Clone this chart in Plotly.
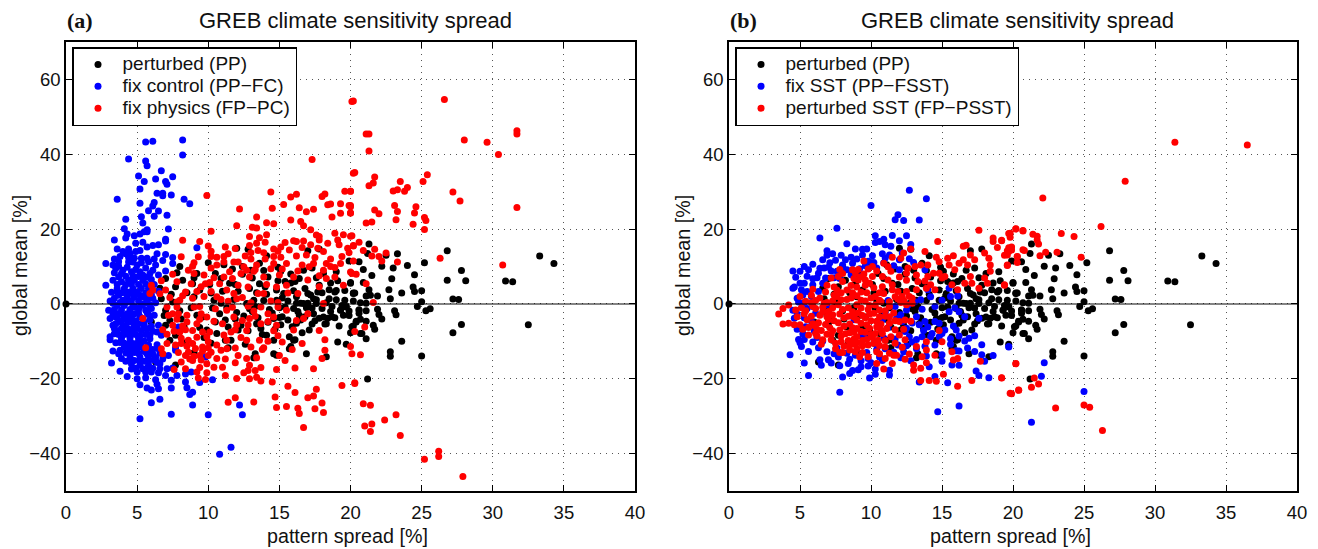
import plotly.graph_objects as go

pp = [(0,0),(21.3,16.0),(21.2,13.5),(22.5,13.0),(23.3,13.4),(26.8,14.2),(33.3,12.8),(34.3,10.8),(25.2,11.0),(24.0,10.3),(23.0,9.6),(22.2,10.1),(20.6,11.3),(20.9,9.2),(27.8,8.9),(24.5,7.8),(21.5,7.6),(22.9,6.7),(26.8,6.3),(28.1,6.2),(30.9,6.1),(31.4,5.9),(20.0,5.7),(20.9,5.7),(24.4,4.5),(24.5,3.3),(25.0,3.5),(22.7,3.8),(23.6,2.9),(21.3,3.8),(20.2,2.9),(21.9,2.1),(21.4,2.3),(21.1,2.1),(22.8,1.4),(27.2,1.3),(27.6,1.2),(20.2,0.8),(25.0,0.6),(20.7,0.3),(21.1,0.2),(24.7,-0.7),(25.3,-1.8),(25.6,-1.3),(21.9,-1.4),(23.1,-1.8),(23.2,-2.9),(20.6,-1.6),(20.6,-2.5),(21.1,-1.8),(22.0,-2.8),(22.2,-4.0),(20.4,-4.6),(20.7,-4.1),(21.1,-4.6),(21.6,-5.7),(21.7,-6.8),(20.1,-6.1),(27.8,-5.5),(32.5,-5.6),(27.2,-7.7),(20.8,-7.9),(21.1,-9.3),(23.6,-10.0),(22.8,-12.8),(22.8,-14.0),(25.0,-13.9),(21.2,-20.1),
(7.8,8.3),(7,6.8),(7.7,4.6),(8.2,6.3),(9.2,8.1),(9.4,3.7),(9,1.9),(6.7,1.4),(7.5,.5),(7,-1.7),(7.3,-4.4),(7,-5.7),(7.3,-9.7),(7.7,-8.4),(6.3,-15.5),(7.7,-16.3),(6,-4.8),(10.5,8.1),(10.4,1),(10.8,-2.6),(10.5,-4.8),(10.6,-7.9),(11.2,-9.7),(11.6,-9.7),(12.1,3.4),(12.9,4.1),(12.7,.1),(13.2,1),(14.2,7.2),(13.6,5.4),(13.4,3),(14.8,3.7),(14.8,1),(15.3,2.8),(14.6,-9.7),(14.6,-13.3),(13.3,-13.3),(14.1,-8.4),(16,-9.7),(15.7,-12),(16.9,-13.3),(16.4,6.8),(16.8,4.1),(17.4,1.4),(17.6,.1),(17,2.8),(17.8,5),(18.5,1.4),(18.9,3.2),(19.6,1),(20.2,2.8),(19.3,-1.7),(19.7,-.8),(18.3,-5.3),(18.1,-3.5),(17.4,-2.6),(19.1,-10.2),(19.7,-10.8),(20.4,-4.8),(19.5,-3),(16.7,.1),
(17.8,14.7),(17,14.2),(19.9,11.5),(17.3,9.6),(19.1,6.2),(20,5.5),(18.5,3.8),(19,3.6),(19.6,3.6),(20.3,2.9),(17.2,2.4),(17.6,1.1),(17,.2),(16.2,.2),(16.5,.2),(18.7,-.7),(19.7,-.7),(19.3,-1.6),(20.6,-1.6),(18.4,-3.8),(18.9,-3.7),(19.9,-3.1),(17.8,-3.8),(18.2,-5.4),(19.2,-5.9),(20.2,-5.9),(20,-7.7),(20.7,-7.9),(15.9,-6.1),(16.2,-5.2),(16.5,-4.3),(17.3,-5.4),(16.8,-3.4),(15.2,-3.4),(15.1,-5.6),(15.7,-8.8),(16.1,-9.6),(15.8,-11.4),(18.3,-14.1),(14.8,-13.7),(13.2,-14.4),(9,-13),(12,14.9),(12.8,14.6),(14.1,12.9),(13.6,10.9),
(8.5,3),(8.8,-1),(9.6,-3.5),(9.9,-7),(10.2,-10.5),(11.5,5.5),(11.3,-1),(11.9,-4),(12.1,-7),(12.6,-10.8),(12.4,7.9),(13.1,-2),(13.4,-5.3),(13.8,-8.2),(14.1,2.6),(14.3,-1.5),(14.6,-3.9),(15,-1),(15.4,6),(15.6,.8),(16,3.5),(16.3,-2),(16.9,-1),(17.5,-4.5),(18,3),(18.6,-2),(10.9,6.8),(11.7,9.3),(13,9),(14.9,9.8),(15.8,8),(16.7,9),(18.1,8.1),(19,8.6),(10,11),(9,7),(8,10),
(6.6,4.2),(6.9,-3.1),(7.4,2.6),(8,-1.8),(8.1,-4),(8.3,-6.2),(8.4,-10.4),(8.9,5.4),(9.2,-3),(9.4,-6.3),(9.7,-9),(10.1,5.2),(10.2,2.9),(10.3,-1.1),(10.9,.2),(11,3.4),(11.2,-4.3),(11.4,-6.2),(11.4,-11.7),(11.8,1.2),(11.9,5.2),(12,-2.3),(12.3,-5.7),(12.5,-3.2),(12.8,-7.2),(12.9,-1.3),(13.1,6.9),(13.3,-.7),(13.5,-3.7),(13.7,-6.6),(13.9,.9),(14,4.6),(14.2,-4.9),(14.5,-2.4),(14.7,-6.7),(14.9,6.2),(15,-3.6),(15.2,1.6),(15.4,-.8),(15.6,-4.3),(15.8,5.6),(16,-1.2),(16.2,1.9),(16.4,-3),(16.6,-7.7),(17.1,-7),(17.3,-1.1),(17.7,3.2),(18,-1.2),(18.3,.3),(18.7,-3.4),(19,1.1),(19.4,-.4),(19.9,-1.9),(16.1,6),(15.1,8.7),(13.9,8.9),(12.4,10),(11.1,10.5),(17.6,7),(18.6,5.6)]

blue_a = [(5.6,43.3),(6.1,43.5),(8.2,43.8),(8.2,39.8),(4.4,38.7),(5.6,38.2),(5.7,36.9),(6.7,35.6),(5.1,34.2),(7.5,34.0),(6.3,33.4),(5.5,32.7),(7.0,32.7),(7.1,32.0),(5.2,30.7),(6.4,29.6),(6.8,29.6),(6.8,28.9),(7.4,29.1),(3.6,28.0),(8.3,28.0),(8.7,26.8),(5.2,26.9),(6.2,27.1),(6.1,26.2),(5.8,24.9),(6.5,24.8),(5.3,23.3),(6.2,23.4),(7.1,23.7),(4.2,22.6),(5.4,21.6),(4.1,20.1),(7.2,20.0),(5.7,19.8),(4.3,18.7),(5.2,18.7),(4.8,18.2),(5.7,19.3),(5.5,19.3),(4.2,17.6),(7.0,17.3),(3.4,17.1),(4.9,16.2),(5.4,16.5),(7.0,16.8),(6.1,15.6),(6.5,15.8),(9.2,15.0),(3.6,14.7),(5.7,15.2),(4.4,14.7),(5.2,14.3),(4.9,14.0),(4.0,14.0),(4.5,13.5),(4.2,13.4),(7.0,13.2),(6.4,13.4),(7.5,12.4),(3.8,12.7),(5.3,12.2),
(2.8,10.8),(3.3,10.4),(3.7,10.1),(4.4,11.2),(5.0,10.4),(5.3,11.0),(6.3,10.4),(7.0,8.8),(7.5,10.8),(3.4,8.3),(4.0,9.0),(4.6,8.6),(5.2,8.6),(5.9,8.1),(6.5,7.7),(2.8,5.0),(3.3,6.3),(3.9,5.9),(4.4,6.3),(4.8,6.3),(5.4,6.3),(3.6,4.1),(4.1,4.1),(4.7,4.1),(5.3,4.1),(5.8,4.1),(3.1,0.8),(3.7,2.3),(4.3,1.9),(4.8,1.9),(5.4,1.9),(6.3,0.3),(3.0,-1.7),(3.6,-0.4),(4.1,-0.4),(4.7,-0.4),(5.3,-0.4),(3.1,-3.9),(3.7,-2.6),(4.3,-2.6),(4.8,-2.6),(5.4,-3.9),(3.3,-5.7),(3.9,-4.8),(4.5,-4.8),(5.1,-5.3),(6.5,-5.7),(3.1,-8.8),(3.6,-7.2),(4.1,-7.1),(4.7,-7.1),(5.3,-7.1),(6.4,-7.5),(6.7,-8.4),(3.1,-9.6),(3.9,-9.3),(4.5,-9.3),(5.1,-9.3),(5.9,-9.3),(6.4,-10.9),(3.3,-12.6),(3.8,-12.4),(4.4,-12.0),(5.0,-11.7),(7.7,-12.4),(3.9,-14.6),(4.5,-14.2),(5.2,-14.2),(5.8,-14.4),(7.2,-13.8),(3.2,-15.8),(4.6,-16.0),(5.2,-16.4),(5.8,-16.4),(6.6,-16.0),(3.8,-18.0),(4.3,-19.4),(5.0,-18.2),(5.6,-18.2),(6.0,-18.2),(7.1,-17.3),(7.5,-17.1),(5.0,-20),(5.6,-19.7),(7.0,-19.1),(7.4,-20.4),(7.8,-19.1),(8.4,-18.7),(8.8,-18.2),(6.3,-20.3),(5.2,-21.6),(5.7,-22.5),(6.0,-23),(6.4,-21.5),(6.5,-22.7),(7.4,-22.5),(8.4,-20.9),(8.5,-22.4),(9.4,-21),(10.3,-20.3),(8.9,-23.6),(8.7,-24.2),(6.6,-25.5),(6.0,-26.4),(8.9,-27),(12.2,-27),(12.4,-29.6),(7.4,-29.5),(10,-29.6),(5.2,-30.7),(11.6,-38.3),(10.8,-40.2),(9.8,-14.2),(7.9,-6.2),(7.7,-11.7),
(4.3,9.8),(4.9,9.2),(5.6,9.6),(6,6.5),(6.2,5.2),(6.5,3.4),(4.2,7.4),(5.1,7.3),(5.7,7.1),(3.7,7.2),(3.9,3),(4.4,3.1),(5,3.2),(5.6,2.9),(6,2.5),(3.4,1.5),(4,1),(4.6,.9),(5.1,.8),(5.7,.7),(6.1,1.5),(3.4,-1.5),(3.9,-1.6),(4.5,-1.5),(5.1,-1.5),(5.6,-1.6),(6,-1.2),(3.5,-3.5),(4.1,-3.7),(4.6,-3.6),(5.2,-3.4),(5.8,-2.8),(6.2,-3),(3.5,-5.3),(4.2,-5.9),(4.8,-6),(5.5,-5.7),(6,-6),(3.7,-8.2),(4.3,-8.1),(4.9,-8.2),(5.6,-8.2),(6.1,-7.3),(3.5,-10.4),(4.1,-10.5),(4.7,-10.6),(5.3,-10.4),(5.8,-11),(6.1,-12.2),(4.2,-13.1),(4.8,-13),(5.5,-12.7),(6.1,-13.4),(6.6,-13.2),(5.2,-15.3),(5.5,-15.3),(6.2,-15),(6.8,-14.7),(4.9,-17.2),(5.4,-17.3),(6.1,-17.2),(6.5,-18.4),(4.6,-15),(3.4,12),(4.4,12.4),(4.8,12.3),(5.7,12.2),(6.2,12),(6.8,11.6),(3.7,11.3),(4.7,11.2),(5.8,11.3),
(3.5,9.5),(3.9,8.1),(4.7,7.5),(5.4,7.7),(6.1,9),(3.6,5.2),(4.2,5.1),(4.6,5.3),(5.1,5.2),(5.6,5.3),(3.2,3.1),(3.6,3.2),(4.2,2.9),(4.6,2.8),(5.2,2.3),(5.7,1.8),(3.3,.2),(3.8,.4),(4.3,.5),(4.9,-.9),(5.5,.1),(5.9,-.2),(3.3,-2.7),(3.9,-2.7),(4.5,-3),(5.1,-2.5),(5.7,-2.3),(3.7,-4.3),(4.3,-4.3),(4.9,-4.5),(5.5,-4.8),(5.9,-4.2),(3.4,-6.6),(3.9,-6.5),(4.4,-6.7),(5,-6.6),(5.7,-6.7),(3.4,-8),(4,-8.3),(4.6,-8.2),(5.2,-8.5),(5.9,-8.3),(3.8,-10.3),(4.4,-10.7),(5,-10.5),(5.5,-9.9),(4.1,-11.6),(4.7,-11.7),(5.3,-11.6),(5.9,-12.3),(6.5,-12),(3.7,-13.3),(4.5,-13),(5.1,-13.2),(5.7,-13.4),(6.3,-14.3),(4.2,-15.3),(4.8,-15.1),(5.8,-15.3),(6.4,-15.6),(4.6,-17.4),(5.7,-17.2),(6.6,-17.3)]

red_a = [(20.1,54.1),(17.3,38.6),(20.2,34.9),(20.3,35.1),(9.9,29),(14.4,29.9),(15.8,28.6),(16.2,29.3),(18,28.7),(18.2,29.4),(19.6,30.1),(20,30.1),(15.3,26.6),(16.4,25.7),(18.4,26.5),(18.6,26.7),(19.3,26.8),(19.9,26.3),(20,26),(14.5,25.6),(12.2,25.4),(16.9,24.6),(17.4,25.3),(19.3,24.2),(20,24.3),(13.4,23.2),(18.7,23.2),(15.8,22.4),(16.5,22),(14.1,21.7),(14.6,21.4),(12,20.9),(13.1,20.5),(13.4,20.3),(16.7,20.9),(17.2,19.8),(10.2,19.4),(12.9,18),(14.1,18.5),(13.6,17.7),(13.4,16.2),(17.6,18.4),(18.9,18.9),(19.5,18.5),(20,18.1),(8.2,17),(9.4,16.7),(12.9,15.6),(14,16.5),(15.4,16.4),(16,16.9),(16.2,16.7),(16.7,16.8),(17.2,15.8),(17.8,18),(17.8,17.1),(18.4,16.2),(19.1,17.1),(19.2,15.8),(20.2,15.5),(15.7,14.4),(14.6,14.7),(13.5,14.3),(13,13.7),(13.9,13.7),(12.6,12.8),(11.4,13.4),(11.1,12.7),(10.6,12.5),(10.2,14.1),(10.2,12.7),(8.1,12.6),(9.3,12.6),(14.6,12.7),(16.9,13.1),(18.1,14),(19.4,12.7),
(26.6,54.6),(20.2,54.2),(21.1,45.4),(21.3,45.4),(28,43.8),(29.6,43.2),(31.7,46.3),(31.7,45.4),(30.4,39.9),(21.3,40.9),(21.7,33.9),(25.4,34.5),(25.1,32.7),(23.5,32.7),(21.6,32.3),(21.3,31.6),(24,31.1),(23.8,30.1),(23.3,30.5),(23,30.2),(27.2,29.9),(27.7,27.5),(20,30.1),(23.1,26.3),(31.7,25.8),(24.6,26),(21.7,25.1),(23.3,24.7),(22,24.1),(24.5,24.3),(20,26.3),(20,24.3),(25.2,23.1),(25.3,22.3),(23.2,22.5),(21.5,21.9),(21.1,21.6),(24.4,21.3),(25.2,19.9),(20.1,18.2),(20.6,16.5),(20.2,15.6),(20.9,14.3),(21.7,14.6),(21.5,12.8),(22.5,13.6),(22,12.7),(22.2,11.5),(26.3,12.2),(23.3,11.2),(30.7,10.4),(20.2,11.5),(20,8.5),(20.4,7.9),(21.1,5.4),(21.6,0.4),(21,-6.2),(20.3,-7.4),(20,-11.4),(20.1,-13.3),(20.7,-13.6),(20.3,-21.1),(20.9,-26.7),(21.4,-27.1),(23.2,-29.6),(22.4,-31),(21.5,-32.1),(21,-32.6),(21.4,-34.1),(23.5,-35.2),(26.2,-39.4),(26.2,-40.8),(25.2,-41.5),(27.9,-46.1),
(5.4,-3.9),(5.6,-11.7),(7.6,-17.5),(6.7,-12),(6.8,-13.3),(7.1,-8.1),(7.5,-5.7),(8,-7.5),(7.7,-11),(8.1,-15.5),(8.9,-15.1),(9.2,-18.2),(9.8,-20.2),(9.9,-16),(9.4,-17),(10.6,-14.6),(11,-16.9),(11.2,-19.1),(12,-19.9),(11.4,-26.3),(11.9,-25.1),(13.2,-26.2),(14.5,-20.9),(14.8,-17.5),(15.6,-22),(16.1,-23.7),(14.7,-24.9),(14.8,-27.7),(15.5,-27.4),(16.3,-27.9),(16.4,-29.3),(16.7,-33),(17,-25.1),(17.4,-24.6),(17.6,-22.8),(18,-26.5),(17.5,-28),(18.1,-29),(19.4,-21.8),(20.3,-21.3),(16.1,-17.1),(17.4,-17.3),(18,-14.6),(18.2,-12.4),(18.2,-9.6),(17.8,-7.1),(15.4,-15.1),(15.9,-12.2),(16.6,-10.6),(15,-13.8),(13.8,-12.2),(13.9,-11.7),(13.4,-14.4),(12.7,-14.6),(12.9,-16.4),(12.8,-17.8),(13.7,-17),(13.3,-17.8),(12.5,-18.4),(12.9,-20),(13.4,-19.6),(13.7,-20.6),(12.1,-13.8),(11.3,-12),(11.9,-11.8),(12.7,-9.7),(13.6,-9.7),
(6.7,6.2),(6,5),(6.1,3.7),(5.9,2.8),(7,3.7),(7.8,5.9),(8.6,9),(8.8,5.4),(9.8,5.4),(9.5,4.6),(8.4,3.2),(7.8,0.5),(11.1,7.2),(10.8,5.4),(11.3,3.7),(11.8,2.8),(10.6,10.4),(11.1,11.2),(11.8,11.2),(12.5,9.9),(13.4,10.4),(12.3,8.1),(12.9,7.2),(13.9,7.2),(13.5,2.8),(13.9,2.8),(12,1.4),(10.6,1.9),(15,7.7),(15.5,5),(16.3,2.8),(16,7.2),(15.5,10.8),(16.6,10.4),(17.1,9.9),(18.1,9),(18.9,7.2),(19.5,5),(20.1,8.1),(18.3,6.8),(18.1,0.1),(14.6,10.8),(17.4,10.8),(18.3,10.8),(19.3,10.8),
(7.5,-2.6),(7.9,-2.6),(8.5,-3),(9,-0.8),(9.5,-2.6),(8.5,-4.8),(9.2,-5.3),(9.9,-3.5),(11,-5.3),(11.3,-1.7),(11.8,-3.5),(12.4,-4.4),(12.9,-3.9),(13.7,-0.8),(14.2,-2.6),(13.7,-5.3),(14.6,-3.5),(14.8,-5.7),(15.5,-1.7),(16.2,-4.4),(16.7,-3.9),(17,-2.6),(8.9,-7.1),(9.6,-7.5),(9.9,-8.8),(8.6,-9.7),(8.9,-10.6),(9.6,-11.5),(8.6,-12.9),(9.4,-13.8),(10.6,-11),(10,-13.8),(11.6,-7.5),(12.7,-7.1),(7.8,-0.8),(7.1,-0.8),
(8,1),(8.9,1.5),(9.7,2),(10.2,3.3),(10.9,1.2),(11.4,.7),(12.4,1.7),(13,.3),(14.4,.8),(14.9,-.8),(9.4,-.7),(10.5,-1.3),(11.7,-.9),(12.8,-.6),(13.2,-1.9),(7.8,-4.1),(8.2,-5.9),(9.4,-4.1),(10.4,-4.6),(12,-5.6),(12.8,-5.6),(13.3,-3.3),(14.2,-4.7),(9.2,-8.9),(10.1,-7.5),(11.1,-8.3),(8.1,-10.6),(8.5,-11.3),(9.1,-11.9),(10,-11.8),(10.9,-12.4),(9,-14),(8.7,-14.7),(9.5,-15),(7.9,-13),(12.3,-9),(13,-11.5),(14.2,-10),(14.9,-8.5),(15.2,-10.2),(14.6,-7.2),(16,-7),(9,8.1),(9.7,7.7),(10.2,9.6),(11.7,6.8),(12.1,5),(12.8,4.5),(14.1,5.2),(14.8,4.5),(15.6,2.9),(17,6.4),(17.8,4.6),(18.6,10),(14.9,.4),
(8.4,-6.9),(8.1,-9.2),(10,-10.1),(8.4,-13.8),(10.2,-12.9),(9.6,-12.6),(11.3,-9.7),(11.9,-6.9),(7.3,1.7),(8.2,2.2),(9.2,3.3),(10.1,5.7),(10.4,7),(11.5,8.6),(12.7,9),(13.2,8.7),(14.4,9.4),(15.2,9.3),(16.3,8.8),(17.8,7.5),(18.9,9.7),(12.1,11.2),(13,12),(14,12),(15.1,12.5),(16.2,12.8),(17.5,12.4),(18.6,12),(19.9,13.7),(11.9,14.8),(15.1,15.2),(16.6,15.1),(17.7,14.9),(19.8,14.9),(13.3,9.2),(14.9,14.1),(9,11),(8.9,10.1),(10,15.5),(11.2,15.2),(7.5,7.9),(6.6,2.7),(7.2,-3),(6.8,-6.9),(7.6,-7.3),(7.1,-10.6),(9.9,-18.4),(9.3,-19.8),(8.4,-17.3),(11.2,-14.7),(11.9,-15.7),(10.4,-16.9)]

blue_b = [(12.7,30.4),(13.9,28.1),(10,26.3),(11.9,23.8),(11.7,22.5),(12.3,22.3),(13.4,22.4),(7.6,20.2),(6.4,17.6),(8.3,16.1),(10.3,18.2),(11.5,18.3),(12.5,18.2),(10.9,17.3),(10.3,16.4),(10.6,16.7),(12,16.9),(12.8,15.9),(11.4,15.4),(9.4,14.6),(9.7,14.7),(11,15.8),(10.8,13.4),(10.1,12.9),(11.3,13.1),(7.3,13.4),(6.9,14.2),(6.9,13),(6.6,11.8),(8.6,12.5),(9,12),(8.7,10.9),(5.9,10.6),(5.3,10),(4.5,8.8),(5,8.7),(5.6,9.1),(6.3,8.2),(6.7,9.6),(7.2,8.8),(7.6,8.7),(8.3,9.1),(8.7,9.1),(10.4,9.6),(13.8,9.1),(12,9.1),(5.9,6.7),(6.8,6.9),(5.3,5.5),(5,5.5),(4.6,4.5),(4.5,4.2),(5.9,5.1),(6.3,3.3),(4.8,1.5),(5.2,2.4),(4.6,-3.8),(4.8,-6.8),(4.9,-9.5),(5,-10.4),(5.3,-9.5),(5.9,-10.2),(5.1,-11.4),(4.3,-13.6),(5.3,-15.8),(5.6,-19.1),(6.9,-12.8),(7.4,-13.3),(7.8,-16.5),(8.5,-14.8),(8.4,-15.9),(9.3,-15.2),(9.3,-16.8),(8.7,-17.8),(9.8,-14.6),(8,-19.5),(7.8,-23.6),(9.9,-19.8),(10.3,-18.8),(11.3,-17.7),(11.3,-19),(12.3,-12.8),(12.8,-15.2),(13.4,-20.9),(14.5,-19.4),(15.4,-21.1),(16.2,-16.4),(16.2,-12.6),(16.8,-11.8),(17.3,-12.7),(17.8,-10.9),(17.8,-13.6),(18,-15.3),(18.6,-13.8),(19.7,-11.4),(17.4,-17.9),(17.6,-19.1),(18.3,-19.7),(14.7,-28.8),(16.2,-27.3),(16.9,-9.2),(17.3,-8.5),(16.2,-8.6),(16.6,-3.4),(17.6,-3.8),(15.5,-2.1),(15.6,2),(16.1,2.1),(15.5,4.2),(14.1,-16.8),(15.2,-7),(14.5,-.7),(14.5,-4.7),(14.8,-5.2),(14.8,-8.8),(15,-7.9),(14.3,-7.9),(14.5,-11),(13.8,-4.7),(13.5,1.1),(13.6,-1.4),(13.2,-3.4),(13.4,-5.6),(12.5,-1.6),(12.1,-2.9),(11.8,-3.8),(12.5,-6.5),(12.4,-7.4),(12.7,-8.8),(13.6,-8.8),(14.2,-8.8),(11.7,-.7),(11.2,.9),(19.7,-11.5),(22.2,-15.7),(22,-19.3),(25,-23.4),(21.3,-31.6),
(9.3,-8.5),(9.6,-9.2),(6.9,-.2),(8.8,-4.2),(7.4,7),(8.6,7.8),(9.3,7.3),(10.9,11),(11.6,10.2),(12.7,12.1),(9.8,11.4),(7.1,11),(8,10.4),(6.2,7),(4.9,.5),(5.5,-1.2),(4.5,-1.7),(4.8,-2.7),(5.2,-8),(6.6,-9.9),(7.6,-11.8),(8.3,-13.2),(9.7,-13),(10.4,-12.2),(11,-12),(11.9,-11),(10.8,-15.1),(9.8,-16.6),(12.1,-14.4),(13.2,-12),(13.8,-11.3),(15,-13.6),(15.6,-10.8),(16,-12.5),(11.7,-9.4),(11.2,-6.3),(10.8,-4.2),
(4.7,7.1),(5.5,7.4),(6.6,5.5),(7.8,6.8),(6.4,9.5),(7,9.8),(8,8.9),(9.2,9.4),(9.6,10.2),(10.2,11.1),(11,12.3),(12,11.8),(12.2,13.6),(13,11.1),(7.9,13),(7.5,11.7),(8.2,11.8),(9.4,13.1),(8.9,14.7),(5.1,3.8),(5.5,3.3),(5.8,2),(5.3,.4),(5.9,-.7),(6.1,-2.5),(5.3,-3.7),(5.8,-4.6),(5.4,-6.1),(6,-7.2),(6.2,-9),(6.3,-11.7),(5.6,-12.7),(7,-14.9),(6.4,-14.9),(7.7,-14.2),(8.9,-13.7),(10,-15.7),(10.6,-14.2),(11.6,-12.9),(12.5,-11.2),(12.9,-10.2),(13.2,-9.5),(13.7,-7.1),(14,-6.2),(12.9,-5.1),(12.2,-4.7),(10.9,-9.1),(10.4,-10.8),(11,-2.2),(12.6,-.3),(13.1,.6),(14.2,1.9),(14,3.8),(15,1),(15.9,-1),(16.2,-2.1),(15.8,-5.9),(16,-7),(15.6,-9.3),(16.6,-9.9),(9.1,-17.6),(8.5,-18.6),(10.3,-17.4),(7.2,-15.8),(6.5,-16.4),(15,-15.3),(13.9,-13.9),(15.7,-16.3)]

red_b = [(31.4,43.2),(36.5,42.5),(27.9,32.8),(22.1,28.3),(26.2,20.7),(20.2,20),(20.7,19.5),(19.7,18.8),(19.8,17.8),(19.2,16.9),(21.4,18.6),(21.7,18.1),(23.4,18.8),(24.3,18),(21.7,17.1),(21.8,16),(19.7,15),(19.9,14.4),(19.6,14.2),(19.4,13),(20.8,14.3),(22.3,13.8),(21.9,12.9),(23.1,13.8),(24.8,12.5),(20.3,12.6),(20.3,11.1),(19.6,10.3),(19.4,5),(20.2,-16),(19.2,-19.8),(21.5,-19.8),(21.8,-21.4),(21.3,-22.3),(20.4,-23.1),(19.9,-24),(23,-27.8),(25,-27),(25.4,-27.6),(26.3,-33.8),
(3.5,-2.7),(3.8,-1.2),(3.8,-5.4),(4.2,-5.2),(4.2,-0.3),(5,2),(5.9,3.9),(9.5,11.5),(10.1,10),(8.7,9.1),(7.7,7.3),(7.2,6.9),(10.9,10.9),(11.5,12.5),(12.1,12.2),(12.3,13.6),(12.8,14.7),(14.7,16.7),(13.8,14),(13.5,10.4),(14.6,12.5),(14.8,11.3),(14,10.4),(13.1,10),(12.6,9.6),(12.5,8.2),(15.4,12.2),(15.8,12.9),(15.5,10.4),(16.2,10.9),(16.5,15.4),(16.7,15.7),(17,13.1),(17.3,11.8),(17.6,19.7),(18.6,17.6),(18.6,16.7),(19.2,17),(18.9,15.1),(19.8,18.9),(20.2,20.1),(20.7,19.6),(19.9,15.2),(19.7,14),(19.6,13.1),(19.6,10.4),(20.3,12.7),(20.7,14.5),(18,13.6),(18.3,12.2),(18.4,10.4),(18.4,8.7),(18,6.9),(18.2,5.5),(17.6,4.2),(17.1,5.5),(16.6,5.5),(17,7.3),(16.1,3.8),(15.7,5.1),(15.2,7.3),(15,6.9),(15.9,9.1),(16.8,10.4),(16.5,11.8),(14.8,8.2),(14.4,8.2),(14,7.3),(14.2,5.1),(14.5,3.8),(13.9,4.2),(19.4,5.1),
(14.8,-7.1),(15,-10.1),(13.9,-10.1),(13.9,-12.3),(14.5,-13.7),(15.7,-12.8),(16.1,-14.6),(15.8,-15),(17.7,-15.3),(13.9,-15.7),(13.6,-14.1),(13,-16.3),(13,-17.7),(13.5,-17.2),(13.2,-11.4),(15.1,-18.8),(14.1,-20.5),(14.6,-20.7),(13.5,-20.5),(17.1,-20.5),(16.1,-22),(19.2,-19.7),(20.2,-15.9),(20.4,-23),(19.8,-23.9),(12.4,-14.8),(10.9,-17.4),(10.4,-15.9),(11.5,-15.9),(11,-14.6),(11.6,-13.7),(11.8,-13.7),(11.3,-13.2),(12,-8.3),(12.4,-9.6),(11.7,-10.5),(11.4,-8.8),(10.8,-7.9),(10.3,-7.9),(11.3,-5.2),(11.3,-3.4),(12,-4.7),(12.4,-4.3),(12.8,-4.6),(12.7,2),(12.9,1.5),(12.2,2),(11.9,3.3),(12.5,3.3),(11.3,-0.7),(11.3,.6),(10.7,.6),(10.8,4.6),(11.5,5.1),(10.8,7.3),(11.4,8.7),(10.1,7.3),(9.1,6.4),(9.6,6.4),
(4.6,-5.6),(4.8,-3.4),(4.7,-1.6),(5,-5.6),(5.6,-8.3),(6.1,-7.9),(6.6,-9.6),(7.2,-9.6),(7.5,-10.5),(7.9,-10.1),(8,-13),(7.8,-13),(8.5,-12.3),(9,-11.9),(9.8,-11),(10.2,-10.5),(9.8,-14.1),(10.4,-12.8),
(5.1,-1),(5.3,-2.6),(5.5,-4.2),(5.6,-6.3),(5.2,-6.8),(5.4,.7),(5.8,.3),(6.1,-1.2),(6.4,-3),(6.3,-5),(6.5,-7.1),(6.2,-8.6),(5.8,2.3),(6.4,1.6),(6.8,3.2),(6.9,.4),(7,-2),(7,-4.2),(7.1,-6.4),(7.2,-8.2),(6.9,5),(7.4,4.5),(7.6,2),(7.7,-.2),(7.8,-2.7),(7.7,-5),(7.8,-7),(7.9,-8.6),(8,6),(8.3,3.7),(8.3,1.2),(8.4,-1),(8.4,-3.3),(8.5,-5.4),(8.5,-7.7),(8.4,-9.8),(8.5,-11),(8.8,6.8),(9,4.5),(9,2.2),(9,-.2),(9.1,-2.4),(9,-4.3),(9,-6.6),(9,-8.8),(9,-10.4),(9.5,8),(9.6,5),(9.7,3),(9.6,.8),(9.8,-1.5),(9.6,-3.7),(9.7,-5.6),(9.6,-7.6),(9.7,-9.5),(10.2,4.3),(10.3,2),(10.3,-.3),(10.2,-2.5),(10.4,-4.6),(10.4,-6.2),(10.1,-9),(10.9,2.8),(11,-1.8),(11,-3.3),(11.1,-6.6),(11,-9.8),(11,-11.5),(6,-5.8),(6.6,-.9),(7.3,.8),(7.9,3),(8.7,3),(8.8,-9.4),(10.6,-13.3),(9.4,-13),(9.2,-14.1),(8.9,-12.8),(6.5,-10.8),(7.5,-12),(12.1,.4),(11.9,1.3),(12.5,-.2),(12.9,.2),(13.2,3.8),(13.3,6),(13.8,6.1),(12.5,6.3),(12,7.2),(13.2,7.7),(11.2,9.9),(9.1,9.2),(8,8.1),
(5.4,-1.8),(5.8,-3.3),(5.9,-5.3),(6.2,-6.8),(5.9,-.6),(6.1,.9),(6.7,.1),(6.6,-2.1),(6.9,-3.4),(6.8,-5.5),(6.9,-8.1),(7.3,-7.2),(7.4,-4.5),(7.3,-2.9),(7.3,-1),(7.4,2.4),(7.6,3.7),(7.9,1.1),(8,-1.5),(8.1,-3.7),(8.1,-6),(8.2,-8),(8.1,-11.3),(8.7,-2.1),(8.8,-3.5),(8.7,-6.4),(8.8,-7.6),(8.7,-10.7),(8.6,1.6),(8.6,4.9),(9.3,3.2),(9.3,1),(9.3,-1.1),(9.4,-3.1),(9.3,-5.2),(9.3,-7.4),(9.4,-9.8),(9.4,-11.2),(9.2,7.2),(9.9,5.5),(10,1.6),(9.9,-.4),(9.9,-2.7),(10,-4.5),(9.9,-6.5),(10,-8.2),(10.6,3),(10.6,1),(10.6,-1.6),(10.6,-3.4),(10.7,-5.4),(10.7,-7),(10.5,-9.7),(10.6,-11.1),(7.8,9.2),(8.9,8.3),(9.8,9.3),(10.4,8.8),(11.2,6.4),(11.5,3.8),(11.7,1.9),(12.3,1),(11.6,-2.4),(11.7,-4.5),(11.7,-6.9),(12.3,-6.8),(12.2,-11.6),(12.7,-13.4)]

cats_a = ["perturbed (PP)", "fix control (PP−FC)", "fix physics (FP−PC)"]
cats_b = ["perturbed (PP)", "fix SST (PP−FSST)", "perturbed SST (FP−PSST)"]
titles = ["GREB climate sensitivity spread", "GREB climate sensitivity spread"]
panel_tags = ["(a)", "(b)"]
x_label = "pattern spread [%]"
y_label = "global mean [%]"
x_ticks = [0, 5, 10, 15, 20, 25, 30, 35, 40]
y_ticks = [-40, -20, 0, 20, 40, 60]
colors = ["#000000", "#0000ff", "#ff0000"]

W, H = 1318, 549
FONT = "Liberation Sans"
fig = go.Figure()

def add(series, name, color, xa, ya, leg):
    fig.add_trace(go.Scatter(
        x=[p[0] for p in series], y=[p[1] for p in series], mode="markers",
        name='<span style="font-size:19px">' + name + '</span>',
        marker=dict(color=color, size=7, line=dict(width=0)),
        xaxis=xa, yaxis=ya, legend=leg, cliponaxis=False))

for ser, nm, c in zip([pp, blue_a, red_a], cats_a, colors):
    add(ser, nm, c, "x", "y", "legend")
for ser, nm, c in zip([pp, blue_b, red_b], cats_b, colors):
    add(ser, nm, c, "x2", "y2", "legend2")

axis = dict(showline=True, linecolor="black", linewidth=1.5, mirror="allticks", automargin=False,
            ticks="inside", ticklen=6, tickcolor="black", tickwidth=1.2,
            showgrid=True, gridcolor="#555555", griddash="1px,5px", gridwidth=1,
            zeroline=False, tickfont=dict(family=FONT, size=18.5, color="#111"))

def xdom(a, b): return [a / W, b / W]
def ydom(a, b): return [1 - b / H, 1 - a / H]

def leg(x, entry):
    return dict(x=x / W, y=1 - 47 / H, xanchor="left", yanchor="top", bgcolor="white",
                bordercolor="black", borderwidth=1.5, font=dict(size=14.5), tracegroupgap=0,
                itemwidth=39, entrywidth=entry, entrywidthmode="pixels")

def note(text, px, py, size=19.7, angle=0, family=FONT, anchor="center"):
    return dict(text=text, xref="paper", yref="paper", x=px / W, y=1 - py / H, showarrow=False,
                xanchor=anchor, yanchor="middle", textangle=angle,
                font=dict(family=family, size=size, color="#111"))

fig.update_layout(
    width=W, height=H, margin=dict(l=0, r=0, t=0, b=0), autosize=False,
    plot_bgcolor="white", paper_bgcolor="white",
    font=dict(family=FONT, color="#111"),
    xaxis=dict(axis, domain=xdom(66, 635), range=[0, 40], tickvals=x_ticks, ticklabelstandoff=4, anchor="y"),
    yaxis=dict(axis, domain=ydom(42, 491), range=[-50, 70], tickvals=y_ticks, anchor="x"),
    xaxis2=dict(axis, domain=xdom(729, 1297), range=[0, 40], tickvals=x_ticks, ticklabelstandoff=4, anchor="y2"),
    yaxis2=dict(axis, domain=ydom(42, 491), range=[-50, 70], tickvals=y_ticks, anchor="x2"),
    legend=leg(72, 172),
    legend2=leg(735, 233),
    shapes=[
        dict(type="line", xref="x", yref="y", x0=0, x1=40, y0=0, y1=0,
             line=dict(color="rgba(0,0,0,0.65)", width=1.5), layer="above"),
        dict(type="line", xref="x2", yref="y2", x0=0, x1=40, y0=0, y1=0,
             line=dict(color="rgba(0,0,0,0.65)", width=1.5), layer="above"),
    ],
    annotations=[
        note(titles[0], 355, 20, size=22),
        note(titles[1], 1017, 20, size=22),
        note("<b>" + panel_tags[0] + "</b>", 65, 20, size=22, family="Liberation Serif", anchor="left"),
        note("<b>" + panel_tags[1] + "</b>", 728, 20, size=22, family="Liberation Serif", anchor="left"),
        note(x_label, 347.5, 536),
        note(x_label, 1010.5, 536),
        note(y_label, 20, 266, angle=-90),
        note(y_label, 683, 266, angle=-90),
    ],
)
fig.write_html("out.html", post_script="document.body.style.margin='0';",
               config=dict(displayModeBar=False))
